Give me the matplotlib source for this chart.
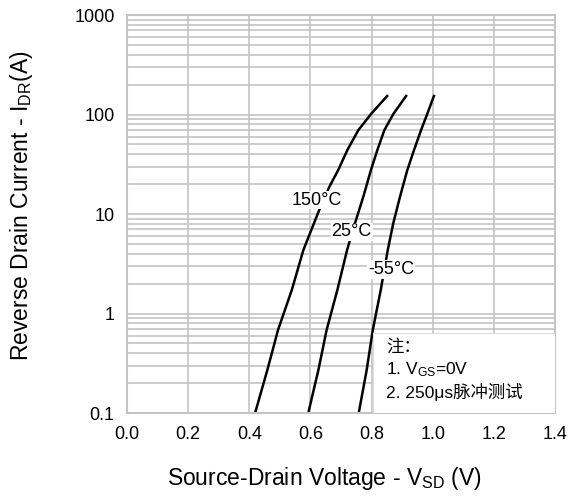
import numpy as np
import matplotlib
matplotlib.use("Agg")
import matplotlib.pyplot as plt
from matplotlib.patches import Rectangle

plt.rcParams['font.family'] = ['Liberation Sans', 'Noto Sans CJK SC', 'DejaVu Sans']
plt.rcParams['mathtext.default'] = 'regular'

# Data (V_SD in V, I_DR in A)
v_150 = [0.419, 0.459, 0.494, 0.539, 0.577, 0.629, 0.662, 0.691, 0.721, 0.757, 0.798, 0.851]
i_150 = [0.1, 0.27, 0.683, 1.72, 4.35, 11.0, 18.8, 27.7, 44, 69.8, 101, 153.5]

v_25 = [0.593, 0.626, 0.653, 0.688, 0.720, 0.749, 0.773, 0.798, 0.819, 0.842, 0.871, 0.913]
i_25 = [0.1, 0.27, 0.683, 1.72, 4.35, 8.7, 14.9, 27.7, 44, 69.8, 101, 153.5]

v_m55 = [0.758, 0.784, 0.804, 0.830, 0.853, 0.871, 0.893, 0.917, 0.939, 0.962, 0.982, 1.004]
i_m55 = [0.1, 0.27, 0.683, 1.72, 4.35, 8.07, 14.9, 27.7, 44, 69.8, 101, 153.5]

labels = ["150°C", "25°C", "-55°C"]
label_pos = [(0.62, 13.8), (0.735, 6.6), (0.864, 2.76)]

x_ticks = [0.0, 0.2, 0.4, 0.6, 0.8, 1.0, 1.2, 1.4]
y_ticks = [0.1, 1, 10, 100, 1000]
y_ticklabels = ["0.1", "1", "10", "100", "1000"]

fig = plt.figure(figsize=(5.76, 4.97), dpi=100)
ax = fig.add_axes([0.2205, 0.169, 0.743, 0.8008])

ax.set_yscale('log')
ax.set_xlim(0, 1.4)
ax.set_ylim(0.1, 1000)

grid_c = '#c4c4c4'
ax.set_xticks(x_ticks)
ax.set_xticklabels([f"{t:.1f}" for t in x_ticks])
ax.set_yticks(y_ticks)
ax.set_yticklabels(y_ticklabels)
ax.yaxis.set_minor_locator(matplotlib.ticker.LogLocator(base=10, subs=np.arange(2, 10)))
ax.yaxis.set_minor_formatter(matplotlib.ticker.NullFormatter())
ax.grid(True, which='major', color=grid_c, lw=1.2)
ax.grid(True, which='minor', axis='y', color=grid_c, lw=1.2)
ax.tick_params(which='both', length=0, labelsize=13, pad=9)
for s in ax.spines.values():
    s.set_color(grid_c)
    s.set_linewidth(1.5)

for v, i in [(v_150, i_150), (v_25, i_25), (v_m55, i_m55)]:
    ax.plot(v, i, color='black', lw=1.8)

for lab, (x, y) in zip(labels, label_pos):
    ax.text(x, y, lab, fontsize=13, ha='center', va='center',
            bbox=dict(facecolor='white', edgecolor='none', pad=0.5))

ax.add_patch(Rectangle((0.575, 0.0), 0.425, 0.201, transform=ax.transAxes,
                       facecolor='white', edgecolor='#dddddd', lw=0.8, zorder=3))
ax.text(0.605, 0.167, "注：", transform=ax.transAxes, fontsize=12.5, va='center', zorder=4)
ax.text(0.605, 0.108, "1. V$_{GS}$=0V", transform=ax.transAxes, fontsize=12.5, va='center', zorder=4)
ax.text(0.605, 0.054, "2. 250μs脉冲测试", transform=ax.transAxes, fontsize=12.5, va='center', zorder=4)

fig.text(0.564, 0.038, "Source-Drain Voltage - V$_{SD}$ (V)", fontsize=16.5,
         ha='center', va='center')
fig.text(0.038, 0.587, "Reverse Drain Current - I$_{DR}$(A)", fontsize=16.5,
         ha='center', va='center', rotation=90)

fig.savefig("out.png", dpi=100)
